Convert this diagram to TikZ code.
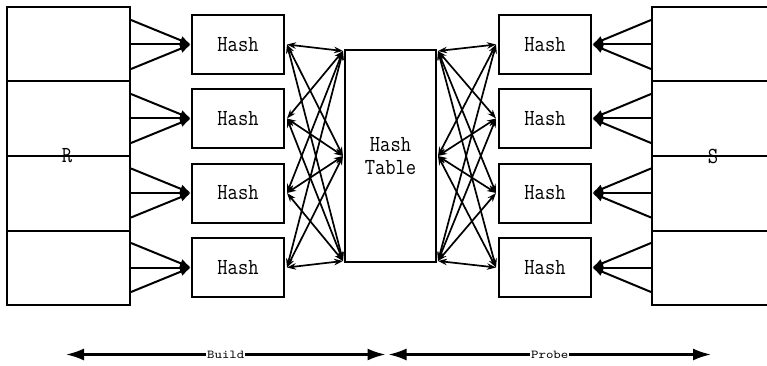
\documentclass[tikz,border=0pt]{standalone}
\usetikzlibrary{arrows.meta,calc}
\newcommand{\tallglyphs}[1]{\scalebox{1}[1.15]{#1}}
\begin{document}
\begin{tikzpicture}[x=1pt,y=-1pt,
  box/.style={draw,line width=2pt,inner sep=0pt},
  hashbox/.style={box,minimum width=92pt,minimum height=59pt,lbl},
  lbl/.style={font=\fontsize{20}{23}\selectfont\ttfamily},
  feed/.style={line width=2pt,-{Latex[length=11pt,width=9pt]}},
  xarr/.style={line width=1.7pt,{Stealth[length=9pt,width=6.5pt]}-{Stealth[length=9pt,width=6.5pt]}},
  phase/.style={line width=2.2pt,{Latex[length=18pt,width=12pt]}-{Latex[length=18pt,width=12pt]}},
  phaselbl/.style={fill=white,inner xsep=0.8pt,inner ysep=1pt,font=\fontsize{10.5}{12}\selectfont\ttfamily}]
\clip (0,0) rectangle (767,366);

% input relations, split into four partitions
\node[box,minimum width=123pt,minimum height=298pt] (R) at (68.5,156) {};
\node[lbl] (Rlbl) at (67,156) {\tallglyphs{R}};
\node[box,minimum width=140pt,minimum height=298pt] (S) at (722,156) {};
\node[lbl] (Slbl) at (713,156) {\tallglyphs{S}};
\foreach \y in {81.5,156,230.5} {
  \draw[line width=2pt] (R.west |- 0,\y) -- (R.east |- 0,\y);
  \draw[line width=2pt] (S.west |- 0,\y) -- (S.east |- 0,\y);
}

% hash workers on both sides
\foreach \i/\y in {1/44.5,2/118.5,3/193,4/267.5} {
  \node[hashbox] (hl\i) at (238,\y) {\tallglyphs{Hash}};
  \node[hashbox] (hr\i) at (545,\y) {\tallglyphs{Hash}};
}

% shared hash table
\node[box,minimum width=91pt,minimum height=212pt,align=center,lbl] (tbl) at (390.5,156) {\tallglyphs{Hash}\\\tallglyphs{Table}};
\coordinate (tlN) at ($(tbl.north west)+(-1,2)$);
\coordinate (tlW) at ($(tbl.west)+(-1,0)$);
\coordinate (tlS) at ($(tbl.south west)+(-1,-2)$);
\coordinate (trN) at ($(tbl.north east)+(1,2)$);
\coordinate (trW) at ($(tbl.east)+(1,0)$);
\coordinate (trS) at ($(tbl.south east)+(1,-2)$);

% partitions feeding the hash workers
\foreach \i in {1,2,3,4} {
  \foreach \d/\k in {-24.5/a,0/b,24.5/c} {
    \coordinate (R\i\k) at ($(R.east |- hl\i)+(0,\d)$);
    \coordinate (S\i\k) at ($(S.west |- hr\i)+(0,\d)$);
    \draw[feed] (R\i\k) -- (hl\i.west);
    \draw[feed] (S\i\k) -- (hr\i.east);
  }
}

% every worker talks to the hash table
\foreach \i in {1,2,3,4} {
  \foreach \j in {N,W,S} {
    \draw[xarr] ($(hl\i.east)+(2,0)$) -- (tl\j);
    \draw[xarr] (tr\j) -- ($(hr\i.west)+(-2,0)$);
  }
}

% phases
\coordinate (b1) at (66,354.5);
\coordinate (bm1) at (385.5,354.5);
\coordinate (bm2) at (388.5,354.5);
\coordinate (b2) at (711,354.5);
\draw[phase] (b1) -- node[phaselbl] {\scalebox{1.35}[1.15]{Build}} (bm1);
\draw[phase] (bm2) -- node[phaselbl] {\scalebox{1.35}[1.15]{Probe}} (b2);
\end{tikzpicture}
\end{document}
